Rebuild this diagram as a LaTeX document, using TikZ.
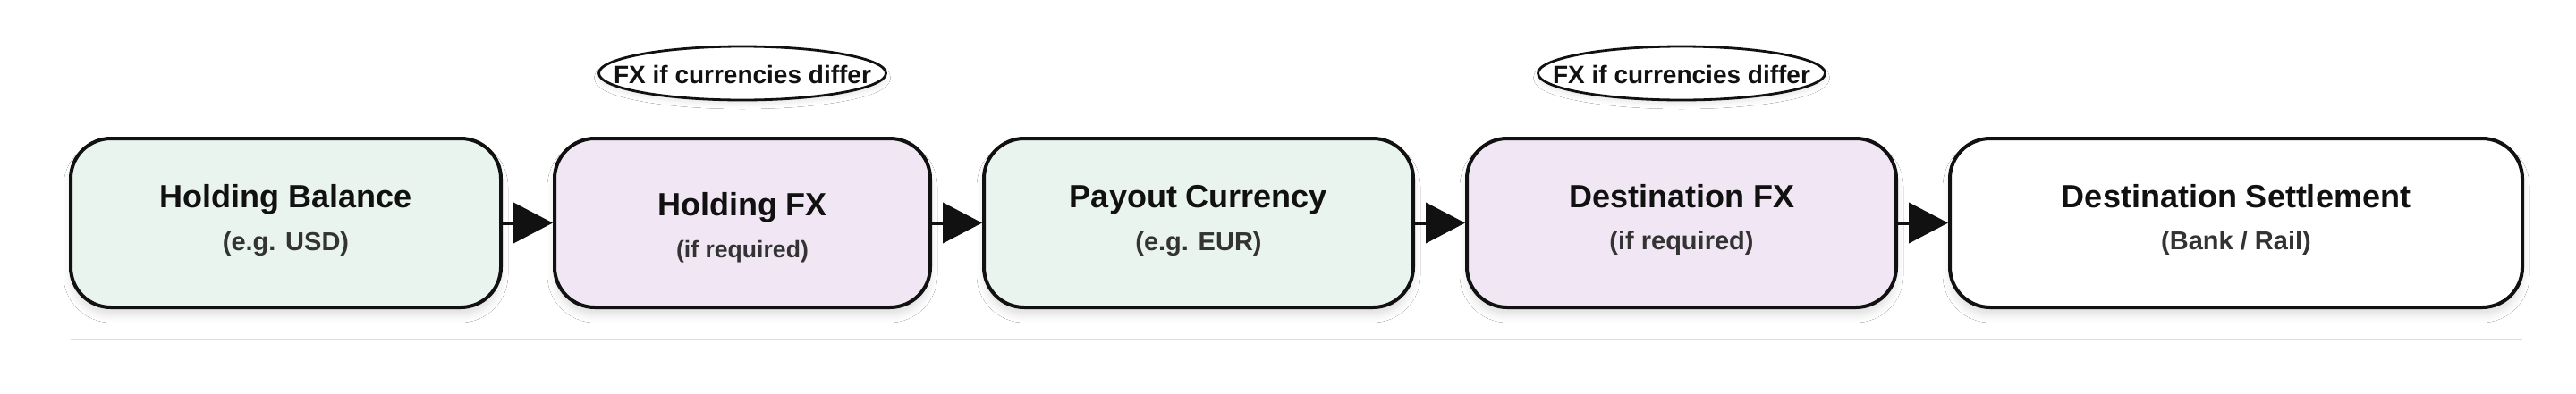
\documentclass[tikz,border=0pt]{standalone}
\usepackage{fontspec}
\setmainfont{Liberation Sans}
\usetikzlibrary{arrows.meta,shapes.geometric,shadows.blur}
\definecolor{boxgreen}{HTML}{EAF4EE}
\definecolor{boxpurple}{HTML}{F1E6F3}
\definecolor{ink}{HTML}{111111}
\definecolor{subink}{HTML}{333333}
\definecolor{rulegray}{HTML}{DDDDDD}
\begin{document}
\begin{tikzpicture}[x=1pt,y=1pt,
  stage/.style={draw=ink, line width=2pt, rounded corners=22.5pt, minimum height=94.5pt, inner sep=0pt,
    blur shadow={shadow xshift=0pt, shadow yshift=-4.5pt, shadow blur radius=4pt, shadow blur extra rounding=2pt, shadow opacity=12}},
  ttl/.style={anchor=base, inner sep=0pt, text=ink, font=\fontsize{18}{20}\selectfont\bfseries},
  sub/.style={anchor=base, inner sep=0pt, text=subink, font=\fontsize{14.5}{16}\selectfont\bfseries},
  subsmall/.style={anchor=base, inner sep=0pt, text=subink, font=\fontsize{13.3}{15}\selectfont\bfseries},
  badge/.style={ellipse, draw=ink, line width=1.4pt, fill=white, minimum width=160.5pt, minimum height=30pt, inner sep=0pt,
    blur shadow={shadow xshift=0pt, shadow yshift=-2.5pt, shadow blur radius=2.5pt, shadow opacity=8}},
  badgetext/.style={anchor=base, inner sep=0pt, text=ink, font=\fontsize{14}{16}\selectfont\bfseries},
  flow/.style={draw=ink, line width=2pt, -{Triangle[length=22pt,width=22.5pt]}}
]
\fill[white] (0,0) rectangle (1440,-220);
\useasboundingbox (0,0) rectangle (1440,-220);

% boxes
\node[stage, fill=boxgreen, minimum width=240.5pt] (b1) at (159.75,-124.75) {};
\node[stage, fill=boxpurple, minimum width=210pt] (b2) at (415,-124.75) {};
\node[stage, fill=boxgreen, minimum width=240pt] (b3) at (670,-124.75) {};
\node[stage, fill=boxpurple, minimum width=240pt] (b4) at (940,-124.75) {};
\node[stage, fill=white, minimum width=320pt] (b5) at (1250,-124.75) {};

% texts
\node[ttl] (t1) at (159.75,-116.25) {Holding Balance};
\node[sub] (s1) at (159.75,-140) {(e.g. USD)};
\node[ttl] (t2) at (415,-120.8) {Holding FX};
\node[subsmall] (s2) at (415,-144.3) {(if required)};
\node[ttl] (t3) at (670,-116.25) {Payout Currency};
\node[sub] (s3) at (670,-140) {(e.g. EUR)};
\node[ttl] (t4) at (940,-116.25) {Destination FX};
\node[sub] (s4) at (940,-139.5) {(if required)};
\node[ttl] (t5) at (1250,-116.25) {Destination Settlement};
\node[sub] (s5) at (1250,-139.5) {(Bank / Rail)};

% badges
\node[badge] (e1) at (415,-41) {};
\node[badgetext] (et1) at (415,-46.5) {FX if currencies differ};
\node[badge] (e2) at (940,-41) {};
\node[badgetext] (et2) at (940,-46.5) {FX if currencies differ};

% connectors
\draw[flow] (b1.east) -- (b2.west);
\draw[flow] (b2.east) -- (b3.west);
\draw[flow] (b3.east) -- (b4.west);
\draw[flow] (b4.east) -- (b5.west);

% rule
\coordinate (r1) at (39.5,-190);
\coordinate (r2) at (1410,-190);
\draw[rulegray, line width=1.3pt] (r1) -- (r2);
\end{tikzpicture}
\end{document}
